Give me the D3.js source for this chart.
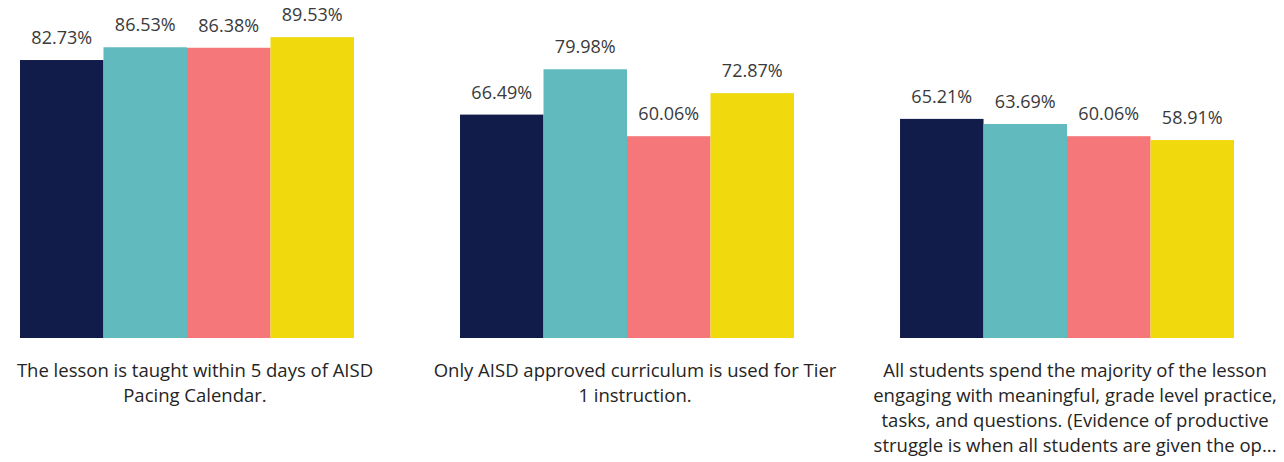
<!DOCTYPE html>
<html><head><meta charset="utf-8">
<script src="https://cdn.jsdelivr.net/npm/d3@7"></script>
<style>body{margin:0;background:#fff;}svg{display:block;}</style>
</head><body>
<svg id="c" width="1284" height="462"></svg>
<script>
const categories = [
  "The lesson is taught within 5 days of AISD Pacing Calendar.",
  "Only AISD approved curriculum is used for Tier 1 instruction.",
  "All students spend the majority of the lesson engaging with meaningful, grade level practice, tasks, and questions. (Evidence of productive struggle is when all students are given the op..."
];
const categoryLines = [
  ["The lesson is taught within 5 days of AISD", "Pacing Calendar."],
  ["Only AISD approved curriculum is used for Tier", "1 instruction."],
  ["All students spend the majority of the lesson", "engaging with meaningful, grade level practice,", "tasks, and questions. (Evidence of productive", "struggle is when all students are given the op..."]
];
const seriesNames = ["S1", "S2", "S3", "S4"];
const seriesColors = ["#111c4a", "#61bbbe", "#f5777a", "#f0d90c"];
const s1 = [82.73, 66.49, 65.21];
const s2 = [86.53, 79.98, 63.69];
const s3 = [86.38, 60.06, 60.06];
const s4 = [89.53, 72.87, 58.91];
const series = [s1, s2, s3, s4];

const svg = d3.select("#c");
const x0 = d3.scaleBand().domain(d3.range(categories.length)).range([20, 1234]).paddingInner(0.241).paddingOuter(0);
const x1 = d3.scaleBand().domain(d3.range(series.length)).range([0, x0.bandwidth()]);
const y = d3.scaleLinear().domain([0, 100]).range([338, 2]);
const font = "'Open Sans', sans-serif";

const g = svg.selectAll("g.grp").data(categories).join("g").attr("class","grp")
  .attr("transform", (d,i) => `translate(${x0(i)},0)`);

g.each(function(cat, ci) {
  const gg = d3.select(this);
  series.forEach((s, si) => {
    gg.append("rect").attr("x", x1(si)).attr("y", y(s[ci]))
      .attr("width", x1.bandwidth()).attr("height", y(0) - y(s[ci]))
      .attr("fill", seriesColors[si]);
    gg.append("text").attr("x", x1(si) + x1.bandwidth()/2).attr("y", y(s[ci]) - 16)
      .attr("text-anchor","middle").attr("font-family", font).attr("font-size", 18)
      .attr("fill","#3a3a3a").text(s[ci].toFixed(2) + "%");
  });
  const t = gg.append("text").attr("text-anchor","middle").attr("font-family", font)
    .attr("font-size", 18.5).attr("fill","#252423");
  categoryLines[ci].forEach((ln, li) => {
    t.append("tspan").attr("x", x0.bandwidth()/2 + 8).attr("y", 377 + li*25).text(ln);
  });
});
</script>
</body></html>
